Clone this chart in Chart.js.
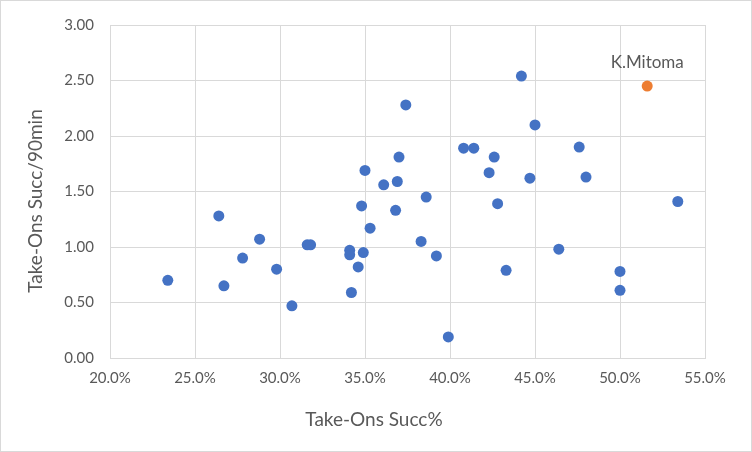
<!DOCTYPE html>
<html>
<head>
<meta charset="utf-8">
<script src="https://cdn.jsdelivr.net/npm/chart.js@4"></script>
<style>
    body { margin: 0; background: #ffffff; }
    canvas { display: block; }
</style>
</head>
<body>
<canvas id="scatterChart" width="752" height="452"></canvas>
<script>
// Take-Ons Succ% (x) and Take-Ons Succ/90min (y), other players
const succPct = [
    23.4, 26.4, 26.7, 27.8, 28.8, 29.8, 30.7, 31.6, 31.8, 34.1,
    34.1, 34.2, 34.6, 34.8, 34.9, 35.0, 35.3, 36.1, 36.9, 36.8,
    37.0, 37.4, 38.3, 38.6, 39.2, 39.9, 40.8, 41.4, 42.3, 42.6,
    42.8, 43.3, 44.2, 44.7, 45.0, 46.4, 47.6, 48.0, 50.0, 50.0,
    53.4
];
const succPer90 = [
    0.70, 1.28, 0.65, 0.90, 1.07, 0.80, 0.47, 1.02, 1.02, 0.97,
    0.93, 0.59, 0.82, 1.37, 0.95, 1.69, 1.17, 1.56, 1.59, 1.33,
    1.81, 2.28, 1.05, 1.45, 0.92, 0.19, 1.89, 1.89, 1.67, 1.81,
    1.39, 0.79, 2.54, 1.62, 2.10, 0.98, 1.90, 1.63, 0.78, 0.61,
    1.41
];

// highlighted player
const highlightName = "K.Mitoma";
const highlightPct = [51.6];
const highlightPer90 = [2.45];

const xTitle = "Take-Ons Succ%";
const yTitle = "Take-Ons Succ/90min";

const xTicks = { min: 20, max: 55, step: 5 };
const yTicks = { min: 0, max: 3, step: 0.5 };

const textColor = "#595959";
const gridColor = "#d9d9d9";
const fontFamily = "Lato, 'Liberation Sans', sans-serif";

function toPoints(xs, ys) {
    return xs.map((x, i) => ({ x: x, y: ys[i] }));
}

// frame, axis titles (Excel puts them a bit off the plot centre) and the name label
const extrasPlugin = {
    id: "extras",
    afterDraw(chart) {
        const ctx = chart.ctx;
        ctx.save();
        ctx.strokeStyle = gridColor;
        ctx.lineWidth = 1;
        ctx.strokeRect(0.5, 0.5, chart.width - 1, chart.height - 1);

        ctx.fillStyle = textColor;
        ctx.textAlign = "center";
        ctx.textBaseline = "middle";

        ctx.font = "19px " + fontFamily;
        ctx.fillText(xTitle, 374, 420);

        ctx.save();
        ctx.translate(36, 201);
        ctx.rotate(-Math.PI / 2);
        ctx.fillText(yTitle, 0, 0);
        ctx.restore();

        const pt = chart.getDatasetMeta(1).data[0];
        ctx.font = "17px " + fontFamily;
        ctx.fillText(highlightName, pt.x, pt.y - 24);
        ctx.restore();
    }
};

const ctx = document.getElementById("scatterChart").getContext("2d");

new Chart(ctx, {
    type: "scatter",
    data: {
        datasets: [
            {
                label: "Players",
                data: toPoints(succPct, succPer90),
                backgroundColor: "#4472c4",
                borderWidth: 0,
                pointRadius: 5.5,
                pointHoverRadius: 5.5
            },
            {
                label: highlightName,
                data: toPoints(highlightPct, highlightPer90),
                backgroundColor: "#ed7d31",
                borderWidth: 0,
                pointRadius: 5.5,
                pointHoverRadius: 5.5
            }
        ]
    },
    options: {
        responsive: false,
        animation: false,
        layout: {
            padding: { left: 0, right: 47, top: 24, bottom: 0 }
        },
        plugins: {
            legend: { display: false },
            tooltip: { enabled: false }
        },
        scales: {
            x: {
                type: "linear",
                min: xTicks.min,
                max: xTicks.max,
                afterFit(scale) { scale.height = 94; },
                grid: { color: gridColor, lineWidth: 1, drawTicks: false },
                border: { color: gridColor },
                ticks: {
                    stepSize: xTicks.step,
                    padding: 11,
                    color: textColor,
                    font: { family: fontFamily, size: 15 },
                    callback: v => v.toFixed(1) + "%"
                }
            },
            y: {
                type: "linear",
                min: yTicks.min,
                max: yTicks.max,
                afterFit(scale) { scale.width = 110; },
                grid: { color: gridColor, lineWidth: 1, drawTicks: false },
                border: { color: gridColor },
                ticks: {
                    stepSize: yTicks.step,
                    padding: 16,
                    color: textColor,
                    font: { family: fontFamily, size: 15 },
                    callback: v => v.toFixed(2)
                }
            }
        }
    },
    plugins: [extrasPlugin]
});
</script>
</body>
</html>
